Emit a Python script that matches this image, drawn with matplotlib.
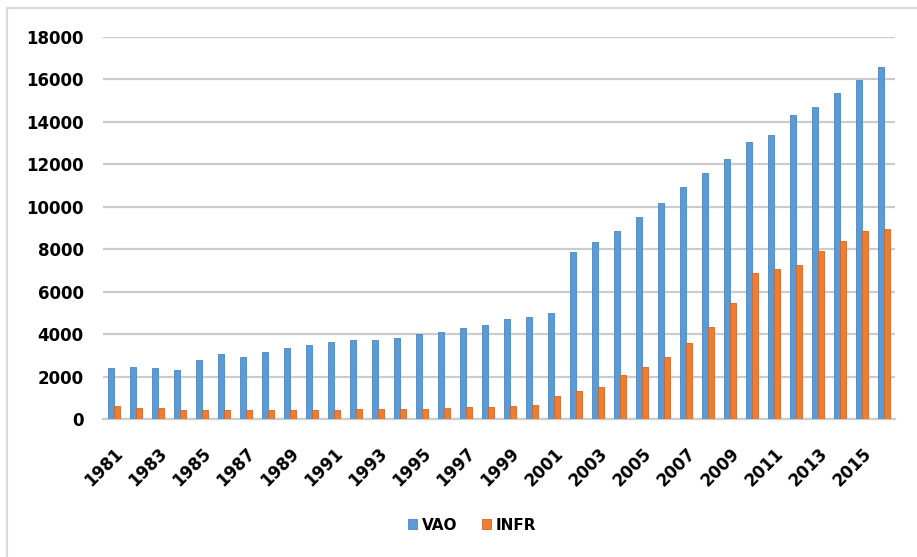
import numpy as np
import matplotlib
matplotlib.use("Agg")
import matplotlib.pyplot as plt
from matplotlib.patches import Rectangle

years = list(range(1981, 2017))
vao = [2400, 2450, 2400, 2300, 2800, 3050, 2900, 3180, 3340, 3470,
       3620, 3720, 3720, 3830, 4020, 4120, 4280, 4440, 4710, 4820,
       5000, 7850, 8320, 8870, 9530, 10190, 10940, 11610, 12270, 13030,
       13400, 14340, 14710, 15380, 15960, 16600]
infr = [600, 520, 520, 440, 410, 410, 410, 410, 410, 410,
        410, 490, 490, 490, 490, 500, 550, 550, 630, 680,
        1100, 1300, 1500, 2050, 2440, 2900, 3560, 4320, 5460, 6860,
        7060, 7250, 7930, 8400, 8870, 8950]
series_names = ['VAO', 'INFR']
colors = ['#5B9BD5', '#ED7D31']
edges = ['#4A86C2', '#D2652A']

fig = plt.figure(figsize=(9.17, 5.57), dpi=100)

# light outer chart border
fig.patches.append(Rectangle((7 / 917, -0.05), 1.2, 1 - 8 / 557 + 0.05,
                             transform=fig.transFigure, fill=False,
                             edgecolor='#d9d9d9', linewidth=1.5))

ax = fig.add_axes([103 / 917, 1 - 419 / 557, 792 / 917, (419 - 37) / 557])
x = np.arange(len(years))
w = 0.28
ax.bar(x - w / 2, vao, w, color=colors[0], edgecolor=edges[0], linewidth=0.6,
       label=series_names[0], zorder=3)
ax.bar(x + w / 2, infr, w, color=colors[1], edgecolor=edges[1], linewidth=0.6,
       label=series_names[1], zorder=3)

ax.set_xlim(-0.5, len(years) - 0.5)
ax.set_ylim(0, 18000)
ax.set_yticks(range(0, 18001, 2000))
ax.yaxis.grid(True, color='#cccccc', linewidth=1.6, zorder=0)
ax.set_axisbelow(True)
for s in ['top', 'right', 'left']:
    ax.spines[s].set_visible(False)
ax.spines['bottom'].set_color('#cccccc')
ax.spines['bottom'].set_linewidth(1.6)
ax.tick_params(axis='both', length=0)
ax.tick_params(axis='y', pad=14)

ax.set_xticks(x[::2])
ax.set_xticklabels([str(y) for y in years[::2]], rotation=45, ha='right',
                   rotation_mode='anchor', fontsize=12, fontweight='bold')
ax.tick_params(axis='x', pad=18)
for lbl in ax.get_yticklabels():
    lbl.set_fontsize(12)
    lbl.set_fontweight('bold')

fig.legend(loc='center', bbox_to_anchor=(472 / 917, 1 - 525 / 557), ncol=2,
           frameon=False, prop={'size': 11, 'weight': 'bold'},
           handlelength=0.6, handleheight=0.6, handletextpad=0.3,
           columnspacing=1.6)

fig.savefig('out.png', dpi=100, facecolor='white')
